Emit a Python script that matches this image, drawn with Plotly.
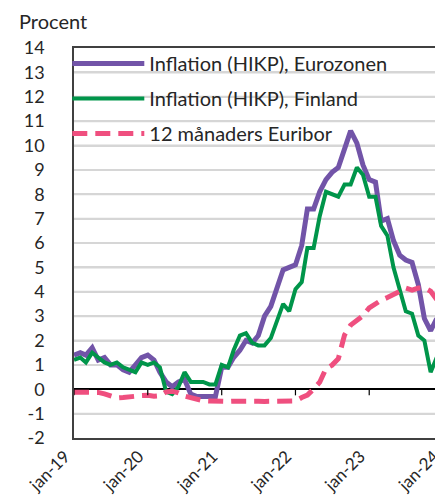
import plotly.graph_objects as go
import pandas as pd

months = pd.date_range("2019-01-01", "2023-12-01", freq="MS")

euro_hicp = [1.4, 1.5, 1.4, 1.7, 1.2, 1.3, 1.0, 1.0, 0.8, 0.7, 1.0, 1.3,
             1.4, 1.2, 0.7, 0.3, 0.1, 0.3, 0.4, -0.2, -0.3, -0.3, -0.3, -0.3,
             0.9, 0.9, 1.3, 1.6, 2.0, 1.9, 2.2, 3.0, 3.4, 4.1, 4.9, 5.0,
             5.1, 5.9, 7.4, 7.4, 8.1, 8.6, 8.9, 9.1, 9.9, 10.6, 10.1, 9.2,
             8.6, 8.5, 6.9, 7.0, 6.1, 5.5, 5.3, 5.2, 4.3, 2.9, 2.4, 2.9]

fin_hicp = [1.2, 1.3, 1.1, 1.5, 1.3, 1.1, 1.0, 1.1, 0.9, 0.8, 0.7, 1.1,
            1.0, 1.1, 0.9, -0.1, -0.2, 0.1, 0.7, 0.3, 0.3, 0.3, 0.2, 0.2,
            1.0, 0.9, 1.6, 2.2, 2.3, 1.9, 1.8, 1.8, 2.1, 2.8, 3.5, 3.2,
            4.1, 4.4, 5.8, 5.8, 7.1, 8.1, 8.0, 7.9, 8.4, 8.4, 9.1, 8.8,
            7.9, 7.9, 6.7, 6.3, 5.0, 4.1, 3.2, 3.1, 2.2, 2.0, 0.7, 1.3]

euribor_12m = [-0.12, -0.11, -0.11, -0.11, -0.13, -0.19, -0.28, -0.36, -0.34, -0.30, -0.27, -0.26,
               -0.25, -0.29, -0.27, -0.11, -0.08, -0.15, -0.28, -0.36, -0.42, -0.47, -0.48, -0.50,
               -0.51, -0.50, -0.49, -0.48, -0.48, -0.48, -0.49, -0.50, -0.49, -0.48, -0.49, -0.50,
               -0.48, -0.34, -0.24, 0.01, 0.29, 0.85, 0.99, 1.25, 2.23, 2.63, 2.83, 3.02,
               3.34, 3.53, 3.65, 3.76, 3.86, 4.01, 4.15, 4.07, 4.15, 4.16, 4.02, 3.68]

names = ["Inflation (HIKP), Eurozonen", "Inflation (HIKP), Finland", "12 månaders Euribor"]
colors = ["#7254A8", "#00954A", "#EF4F7F"]

x_tick_vals = ["2019-01-01", "2020-01-01", "2021-01-01", "2022-01-01", "2023-01-01", "2024-01-01"]
x_tick_text = ["jan-19", "jan-20", "jan-21", "jan-22", "jan-23", "jan-24"]
y_ticks = list(range(-2, 15))
y_tick_text = [str(v) for v in y_ticks]

FONT = "Lato, 'Open Sans', sans-serif"

fig = go.Figure()
fig.add_trace(go.Scatter(x=months, y=euro_hicp, mode="lines", name=names[0], legendgroup="a",
                         line=dict(color=colors[0], width=5)))
fig.add_trace(go.Scatter(x=months, y=fin_hicp, mode="lines", name=names[1], legendgroup="b",
                         line=dict(color=colors[1], width=4)))
fig.add_trace(go.Scatter(x=months, y=euribor_12m, mode="lines", name=names[2], legendgroup="c",
                         line=dict(color=colors[2], width=5, dash="15px,8px")))

# horizontal gridlines (behind the data) at every y tick
for v in y_ticks:
    if v in (-2, 0, 14):
        continue
    fig.add_shape(type="line", xref="paper", yref="y", x0=0, x1=1, y0=v, y1=v,
                  line=dict(color="#D6D6D6", width=2), layer="below")
# tick marks hanging from the zero line at each year
for t in x_tick_vals:
    fig.add_shape(type="line", xref="x", yref="y", x0=t, x1=t, y0=0, y1=-0.25,
                  line=dict(color="#000000", width=1.2), layer="above")

fig.update_layout(
    width=443, height=500,
    margin=dict(l=66, r=3, t=40, b=70),
    plot_bgcolor="white", paper_bgcolor="white",
    font=dict(family=FONT, size=18, color="#262626"),
    showlegend=True,
    legend=dict(x=-0.018, y=1.01, xanchor="left", yanchor="top",
                bgcolor="rgba(0,0,0,0)", itemwidth=72,
                font=dict(size=20, color="#262626"), tracegroupgap=6),
    xaxis=dict(type="date", range=["2019-01-01", "2024-01-16"],
               tickvals=x_tick_vals, ticktext=x_tick_text, tickangle=-45,
               ticklabelshift=-9,
               showgrid=False, showline=True, linecolor="#404040", linewidth=1.5,
               mirror=True, ticks="", zeroline=False,
               tickfont=dict(size=17)),
    yaxis=dict(range=[-2, 14], tickvals=y_ticks, ticktext=y_tick_text, showgrid=True,
               gridcolor="#D6D6D6", gridwidth=2, zeroline=True, zerolinecolor="#000000",
               zerolinewidth=1.5,
               showline=True, linecolor="#404040", linewidth=1.5, mirror=True,
               ticks="", ticklabelstandoff=24, tickfont=dict(size=18)),
    annotations=[dict(text="Procent", xref="paper", yref="paper", x=-0.152, y=1.033,
                      xanchor="left", yanchor="bottom", showarrow=False,
                      font=dict(size=20, color="#262626"))],
)

fig.write_html("out.html")
